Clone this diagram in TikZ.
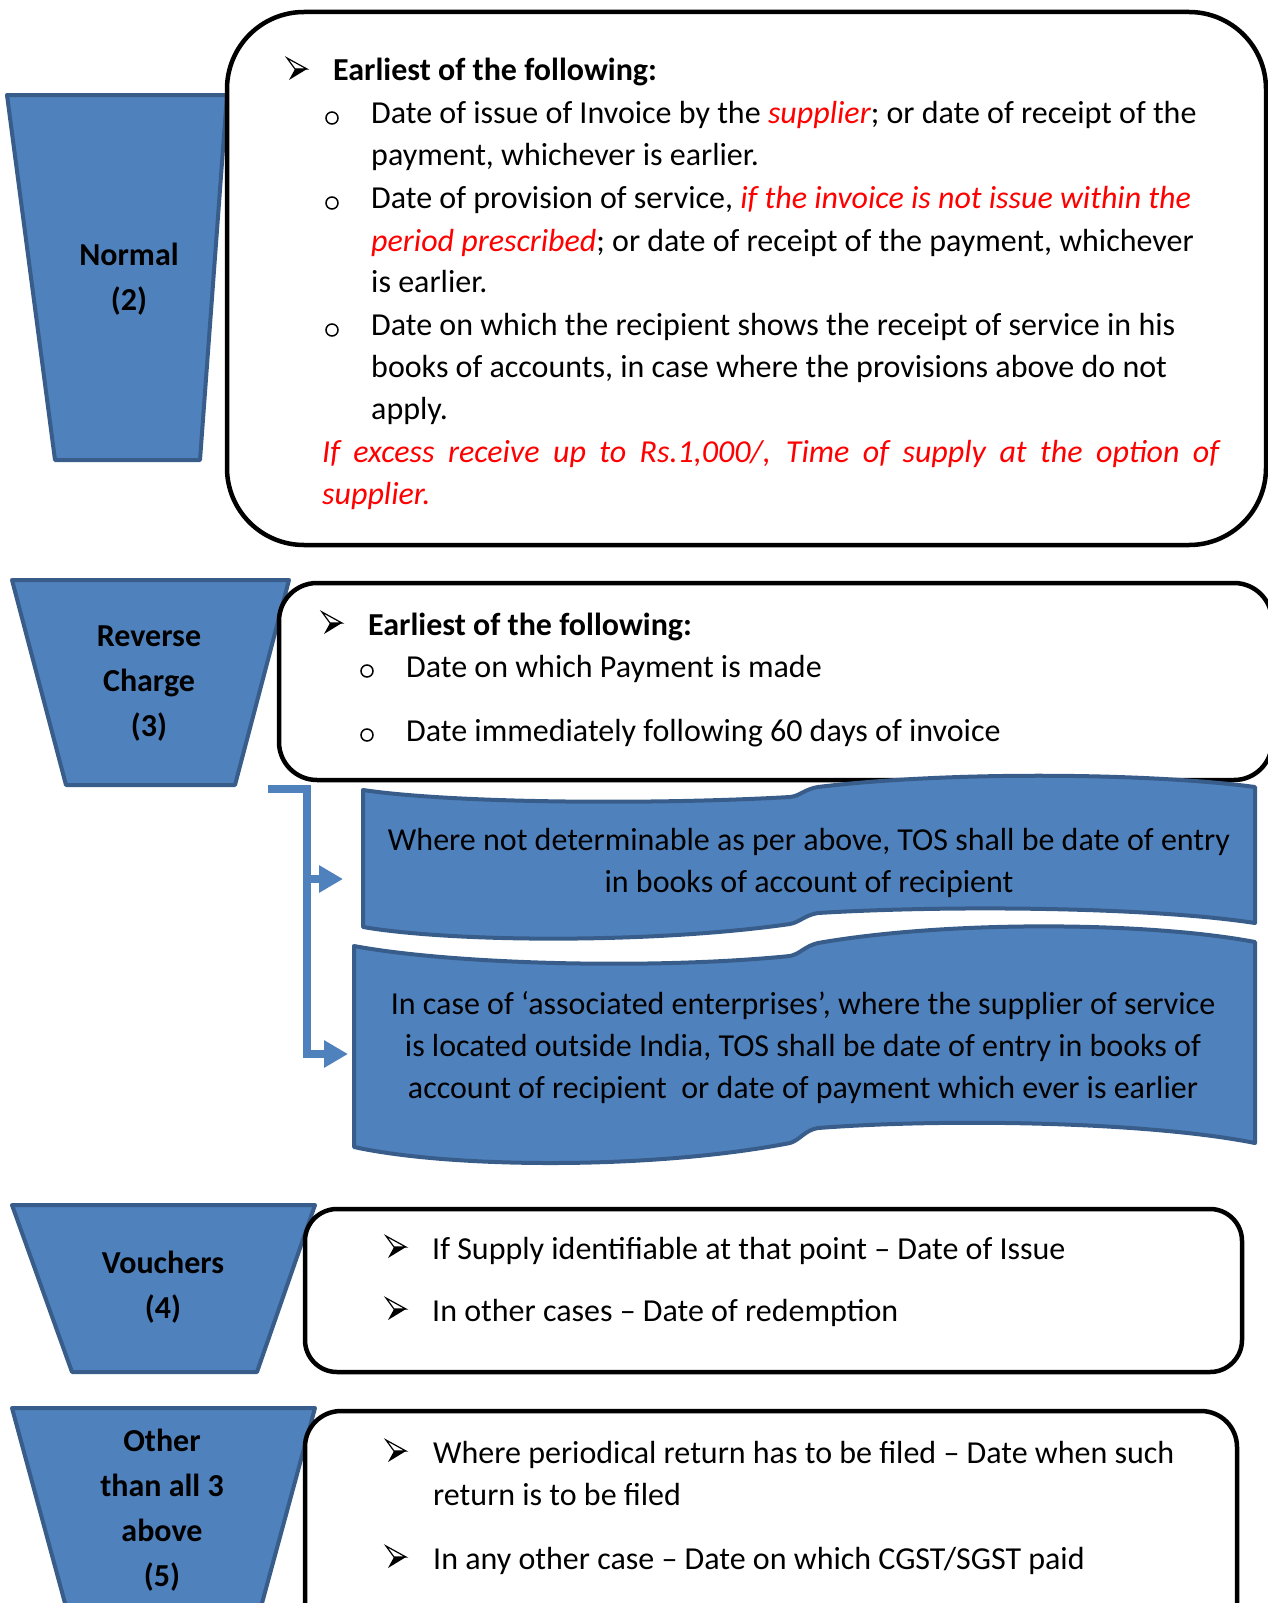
\documentclass[tikz,border=0pt]{standalone}
\usepackage{fontspec}
\setmainfont{Carlito}
\usetikzlibrary{arrows.meta}
\definecolor{fillblue}{HTML}{4F81BD}
\definecolor{edgeblue}{HTML}{385D8A}
\definecolor{txtred}{HTML}{FF0000}
\tikzset{
  trap/.style={fill=fillblue, draw=edgeblue, line width=4pt, line join=round},
  banner/.style={fill=fillblue, draw=edgeblue, line width=4pt, line join=round},
  panel/.style={fill=white, draw=black, line width=4.5pt},
  ln/.style={anchor=west, inner sep=0pt, text height=27pt, text depth=7pt,
    font=\fontsize{32}{42}\selectfont},
  hd/.style={ln, font=\fontsize{32}{42}\selectfont\bfseries},
  ring/.style={circle, draw=black, line width=1.5pt, inner sep=0pt, minimum size=12pt},
  arrowbul/.pic={
    \draw[line width=1.2pt, line join=miter] (-10,-11) -- (10,0) -- (-2,0) -- cycle;
    \fill (-2,0) -- (10,0) -- (-8,11) -- cycle;
  },
  traplabel/.style={align=center, inner sep=0pt, font=\fontsize{32}{45}\selectfont\bfseries},
  bannertext/.style={align=center, inner sep=0pt, font=\fontsize{32}{42}\selectfont},
  link/.style={draw=fillblue, line width=7.5pt, -{Triangle[length=24pt,width=26pt]}},
  red/.style={text=txtred},
}
\begin{document}
\begin{tikzpicture}[x=1pt,y=-1pt]
\useasboundingbox (0,0) rectangle (1268,1603);

% ---- category trapezoids ----
\draw[trap] (7,95) -- (227,95) -- (200,460) -- (55,460) -- cycle;
\draw[trap] (12,580) -- (289,580) -- (235,785) -- (66,785) -- cycle;
\draw[trap] (12,1205) -- (315,1205) -- (257,1372) -- (72,1372) -- cycle;
\draw[trap] (12,1408) -- (315,1408) -- (252,1640) -- (75,1640) -- cycle;

\node[traplabel] (tnormal) at (129,279) {Normal\\(2)};
\node[traplabel] (treverse) at (149,684) {Reverse\\Charge\\(3)};
\node[traplabel] (tvoucher) at (163,1287) {Vouchers\\(4)};
\node[traplabel] (tother) at (162,1510) {Other\\than all 3\\above\\(5)};

% ---- panels ----
\draw[panel, rounded corners=77pt] (227,12) rectangle (1266,545);
\draw[panel, rounded corners=38pt] (279,583) rectangle (1272,780);
\draw[panel, rounded corners=32pt] (305,1209) rectangle (1242,1372);
\draw[panel, rounded corners=36pt] (305,1411) rectangle (1237,1650);

% ---- normal supply ----
\pic (n0b) at (297,69) {arrowbul};
\node[hd] (n0) at (333,71) {Earliest of the following:};
\node[ring] (n1b) at (332,118) {};
\node[ln] (n1a) at (371,113) {Date of issue of Invoice by the \textcolor{txtred}{\itshape supplier}; or date of receipt of the};
\node[ln] (n1c) at (371,155) {payment, whichever is earlier.};
\node[ring] (n2b) at (332,203) {};
\node[ln] (n2a) at (371,198) {Date of provision of service, \textcolor{txtred}{\itshape if the invoice is not issue within the}};
\node[ln] (n2c) at (371,241) {\textcolor{txtred}{\itshape period prescribed}; or date of receipt of the payment, whichever};
\node[ln] (n2d) at (371,282) {is earlier.};
\node[ring] (n3b) at (332,330) {};
\node[ln] (n3a) at (371,325) {Date on which the recipient shows the receipt of service in his};
\node[ln] (n3c) at (371,367) {books of accounts, in case where the provisions above do not};
\node[ln] (n3d) at (371,409) {apply.};
\node[ln, red] (n4a) at (322,452) {\makebox[897pt][s]{\itshape If excess receive up to Rs.1,000/, Time of supply at the option of}};
\node[ln, red] (n4c) at (322,494) {\itshape supplier.};

% ---- reverse charge ----
\pic (r0b) at (332,623) {arrowbul};
\node[hd] (r0) at (368,625) {Earliest of the following:};
\node[ring] (r1b) at (367,671) {};
\node[ln] (r1) at (406,667) {Date on which Payment is made};
\node[ring] (r2b) at (367,735) {};
\node[ln] (r2) at (406,731) {Date immediately following 60 days of invoice};

% ---- wave banners ----
\draw[banner] (363,790) .. controls (450,803) and (650,805) .. (790,797)
  .. controls (800,796) and (805,789) .. (818,787)
  .. controls (950,771) and (1150,773) .. (1255,787)
  -- (1255,923)
  .. controls (1150,907) and (950,905) .. (818,913)
  .. controls (805,915) and (800,922) .. (790,924)
  .. controls (650,944) and (450,942) .. (363,927) -- cycle;
\draw[banner] (354,946) .. controls (450,964) and (650,970) .. (790,956)
  .. controls (800,954) and (805,946) .. (818,943)
  .. controls (950,920) and (1150,922) .. (1255,942)
  -- (1255,1143)
  .. controls (1150,1122) and (950,1118) .. (818,1128)
  .. controls (805,1130) and (800,1140) .. (790,1143)
  .. controls (650,1170) and (450,1168) .. (354,1147) -- cycle;

\node[bannertext] (w1) at (809,863) {Where not determinable as per above, TOS shall be date of entry\\in books of account of recipient};
\node[bannertext] (w2) at (803,1048) {In case of ‘associated enterprises’, where the supplier of service\\is located outside India, TOS shall be date of entry in books of\\account of recipient\ \ or date of payment which ever is earlier};

% ---- connector from reverse charge to the banners ----
\coordinate (rcsrc) at (268,789);
\coordinate (fork) at (307,879);
\coordinate (b1in) at (343,879);
\coordinate (b2in) at (348,1054);
\draw[link] (rcsrc) -| (fork) |- (b2in);
\draw[link] (fork) -- (b1in);

% ---- vouchers ----
\pic (v1b) at (396,1247) {arrowbul};
\node[ln] (v1) at (432,1249) {If Supply identifiable at that point – Date of Issue};
\pic (v2b) at (396,1309) {arrowbul};
\node[ln] (v2) at (432,1311) {In other cases – Date of redemption};

% ---- other cases ----
\pic (o1b) at (396,1451) {arrowbul};
\node[ln] (o1a) at (433,1453) {Where periodical return has to be filed – Date when such};
\node[ln] (o1c) at (433,1495) {return is to be filed};
\pic (o2b) at (396,1557) {arrowbul};
\node[ln] (o2) at (433,1559) {In any other case – Date on which CGST/SGST paid};
\end{tikzpicture}
\end{document}
